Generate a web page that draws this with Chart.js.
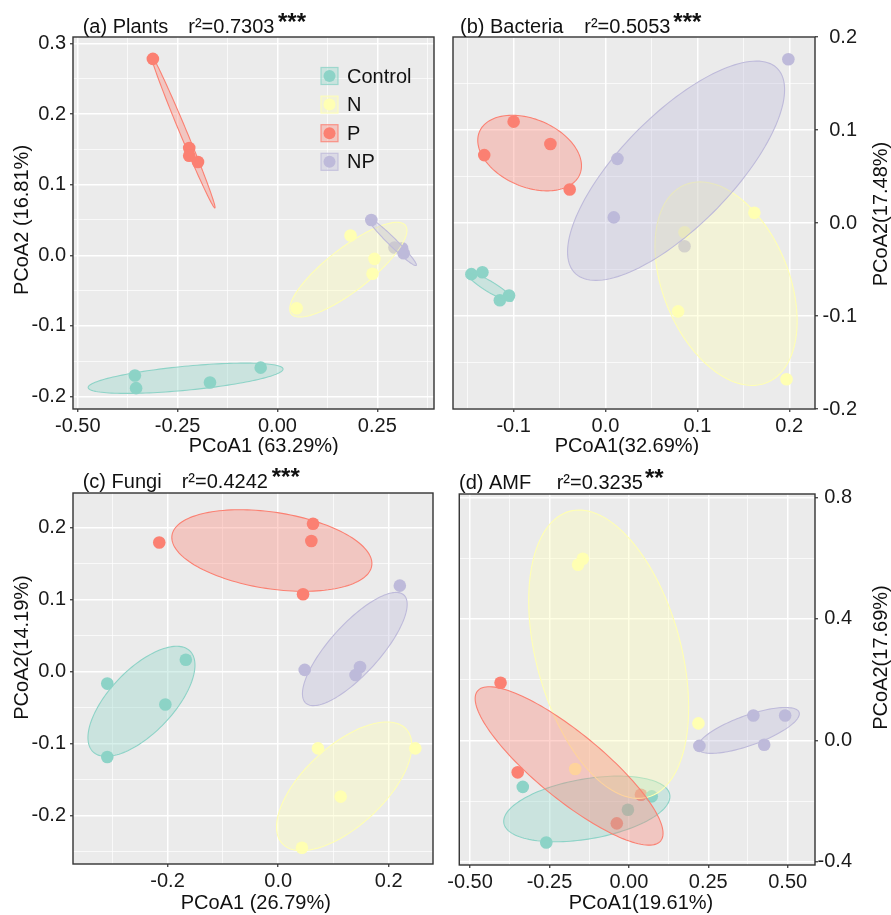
<!DOCTYPE html>
<html>
<head>
<meta charset="utf-8">
<script src="https://cdn.jsdelivr.net/npm/chart.js@4.4.1/dist/chart.umd.min.js"></script>
<style>
  html, body { margin: 0; padding: 0; background: #fff; }
  #wrap { position: relative; width: 891px; height: 915px; }
  canvas { position: absolute; }
</style>
</head>
<body>
<div id="wrap">
  <canvas id="pa" width="445" height="455" style="left:0;top:0"></canvas>
  <canvas id="pb" width="446" height="455" style="left:445px;top:0"></canvas>
  <canvas id="pc" width="445" height="460" style="left:0;top:455px"></canvas>
  <canvas id="pd" width="446" height="460" style="left:445px;top:455px"></canvas>
</div>
<script>
// groups and colours (Set3)
const groups = ['Control', 'N', 'P', 'NP'];
const groupColors = ['141,211,199', '255,255,179', '251,128,114', '190,186,218'];

// (a) Plants  - points [PCoA1, PCoA2]
const plantsControl = [[-0.357, -0.170], [-0.354, -0.188], [-0.169, -0.180], [-0.042, -0.159]];
const plantsN       = [[0.183, 0.028], [0.243, -0.005], [0.238, -0.026], [0.048, -0.075]];
const plantsP       = [[-0.312, 0.278], [-0.221, 0.152], [-0.221, 0.141], [-0.199, 0.132]];
const plantsNP      = [[0.235, 0.050], [0.293, 0.011], [0.312, 0.010], [0.316, 0.003]];
// ellipses: centre x, centre y, axis1 dx, dy, axis2 dx, dy (Control, N, P, NP)
const plantsEllipses = [
  [-0.230, -0.174, 0.244, 0.0132, 0.0029, -0.0169],
  [0.1775, -0.0203, 0.143, 0.0626, 0.033, -0.0241],
  [-0.236, 0.1745, 0.0793, -0.1074, 0.008, 0.0019],
  [0.287, 0.0194, 0.0605, -0.0336, 0.007, 0.0041]
];

// (b) Bacteria
const bactControl = [[-0.146, -0.055], [-0.134, -0.053], [-0.115, -0.083], [-0.105, -0.078]];
const bactN       = [[0.162, 0.011], [0.086, -0.010], [0.079, -0.095], [0.197, -0.168]];
const bactP       = [[-0.100, 0.109], [-0.060, 0.085], [-0.132, 0.073], [-0.039, 0.036]];
const bactNP      = [[0.199, 0.176], [0.013, 0.069], [0.009, 0.006], [0.086, -0.025]];
const bactEllipses = [
  [-0.1255, -0.0688, 0.0245, -0.0147, -0.0032, -0.0048],
  [0.1312, -0.0652, 0.0432, -0.1069, 0.0642, 0.0235],
  [-0.0826, 0.0752, 0.0541, -0.024, -0.0161, -0.0328],
  [0.0768, 0.0562, 0.1092, 0.1109, 0.045, -0.0401]
];

// (c) Fungi
const fungiControl = [[-0.167, 0.016], [-0.309, -0.017], [-0.204, -0.046], [-0.309, -0.119]];
const fungiN       = [[0.072, -0.107], [0.248, -0.107], [0.113, -0.174], [0.043, -0.245]];
const fungiP       = [[0.063, 0.205], [0.060, 0.181], [-0.215, 0.179], [0.045, 0.107]];
const fungiNP      = [[0.220, 0.119], [0.048, 0.002], [0.148, 0.006], [0.140, -0.005]];
const fungiEllipses = [
  [-0.2472, -0.0417, 0.0875, 0.0701, 0.0413, -0.0306],
  [0.1194, -0.1597, 0.1122, 0.0794, 0.0489, -0.041],
  [-0.0114, 0.1678, 0.1806, -0.0211, -0.0104, -0.0526],
  [0.1386, 0.031, 0.0886, 0.0751, 0.0334, -0.0233]
];

// (d) AMF
const amfControl = [[-0.334, -0.153], [0.072, -0.184], [-0.003, -0.228], [-0.260, -0.336]];
const amfN       = [[-0.145, 0.598], [-0.160, 0.578], [0.219, 0.056], [-0.169, -0.094]];
const amfP       = [[-0.404, 0.190], [-0.350, -0.105], [0.038, -0.179], [-0.038, -0.273]];
const amfNP      = [[0.392, 0.082], [0.492, 0.082], [0.222, -0.018], [0.426, -0.014]];
const amfEllipses = [
  [-0.1324, -0.2255, 0.2612, 0.0467, 0.0155, -0.0974],
  [-0.0636, 0.2837, 0.1244, -0.4701, 0.219, 0.0652],
  [-0.1882, -0.084, 0.2886, -0.2463, 0.0648, 0.0853],
  [0.3764, 0.0329, 0.1595, 0.0596, 0.0155, -0.0464]
];

// tick values + labels
const plantsXTicks = [-0.5, -0.25, 0, 0.25];  const plantsXLabels = ['-0.50', '-0.25', '0.00', '0.25'];
const plantsYTicks = [-0.2, -0.1, 0, 0.1, 0.2, 0.3]; const plantsYLabels = ['-0.2', '-0.1', '0.0', '0.1', '0.2', '0.3'];
const bactXTicks = [-0.1, 0, 0.1, 0.2];  const bactXLabels = ['-0.1', '0.0', '0.1', '0.2'];
const bactYTicks = [-0.2, -0.1, 0, 0.1, 0.2]; const bactYLabels = ['-0.2', '-0.1', '0.0', '0.1', '0.2'];
const fungiXTicks = [-0.2, 0, 0.2];  const fungiXLabels = ['-0.2', '0.0', '0.2'];
const fungiYTicks = [-0.2, -0.1, 0, 0.1, 0.2]; const fungiYLabels = ['-0.2', '-0.1', '0.0', '0.1', '0.2'];
const amfXTicks = [-0.5, -0.25, 0, 0.25, 0.5];  const amfXLabels = ['-0.50', '-0.25', '0.00', '0.25', '0.50'];
const amfYTicks = [-0.4, 0, 0.4, 0.8]; const amfYLabels = ['-0.4', '0.0', '0.4', '0.8'];

const FONT = "'Liberation Sans', Arial, sans-serif";
Chart.defaults.font.family = FONT;
Chart.defaults.font.size = 20;
Chart.defaults.color = '#1a1a1a';

// major ticks + half-step minor gridlines inside the range
const buildTicks = (vals, labels, min, max) => {
  const step = vals[1] - vals[0];
  const out = vals.map((v, i) => ({ value: v, txt: labels[i], minor: false }));
  for (let m = vals[0] - step / 2; m <= max + 1e-9; m += step) {
    if (m >= min - 1e-9) out.push({ value: m, txt: '', minor: true });
  }
  return out.filter(t => t.value >= min - 1e-9 && t.value <= max + 1e-9).sort((a, b) => a.value - b.value);
};

const axis = (min, max, vals, labels, pos, size, pad) => ({
  type: 'linear', position: pos, min, max,
  afterBuildTicks: s => { s.ticks = buildTicks(vals, labels, min, max); },
  afterFit: s => { if (pos === 'bottom') s.height = size; else s.width = size; },
  border: { display: false },
  grid: {
    color: '#ffffff',
    lineWidth: c => (c.tick && c.tick.minor) ? 0.7 : 1.5,
    tickColor: c => (c.tick && c.tick.minor) ? 'rgba(0,0,0,0)' : '#333',
    tickWidth: 1.2,
    tickLength: 3
  },
  ticks: {
    autoSkip: false, maxRotation: 0, minRotation: 0, padding: pad,
    crossAlign: pos === 'right' ? 'far' : 'near',
    color: '#1a1a1a',
    callback: (v, i, t) => t[i].txt
  }
});

const makePanel = (id, p) => {
  const sets = p.points.map((pts, i) => ({
    label: groups[i],
    data: pts.map(d => ({ x: d[0], y: d[1] })),
    pointRadius: 6.3,
    pointBorderWidth: 0,
    backgroundColor: `rgb(${groupColors[i]})`,
    borderColor: `rgb(${groupColors[i]})`
  }));

  const deco = {
    id: 'deco' + id,
    beforeDraw(chart) {
      const { ctx, chartArea: a } = chart;
      ctx.save();
      ctx.fillStyle = '#ebebeb';
      ctx.fillRect(a.left, a.top, a.width, a.height);
      ctx.restore();
    },
    afterDatasetsDraw(chart) {
      // ellipses go over the points, like the ggplot polygons
      const { ctx, chartArea: a, scales: { x, y } } = chart;
      ctx.save();
      ctx.beginPath(); ctx.rect(a.left, a.top, a.width, a.height); ctx.clip();
      p.ellipses.forEach((e, i) => {
        ctx.beginPath();
        for (let k = 0; k <= 144; k++) {
          const t = k / 144 * Math.PI * 2;
          const px = x.getPixelForValue(e[0] + e[2] * Math.cos(t) + e[4] * Math.sin(t));
          const py = y.getPixelForValue(e[1] + e[3] * Math.cos(t) + e[5] * Math.sin(t));
          k === 0 ? ctx.moveTo(px, py) : ctx.lineTo(px, py);
        }
        ctx.closePath();
        ctx.fillStyle = `rgba(${groupColors[i]},0.35)`;
        ctx.fill();
        ctx.strokeStyle = `rgb(${groupColors[i]})`;
        ctx.lineWidth = 1.1;
        ctx.stroke();
      });
      ctx.restore();
    },
    afterDraw(chart) {
      const { ctx, chartArea: a } = chart;
      ctx.save();
      ctx.strokeStyle = '#333';
      ctx.lineWidth = 1.4;
      ctx.strokeRect(a.left, a.top, a.width, a.height);

      ctx.fillStyle = '#111';
      ctx.textBaseline = 'alphabetic';
      ctx.textAlign = 'left';
      ctx.font = `20px ${FONT}`;
      ctx.fillText(p.title[0], p.titlePos[0], p.titlePos[3]);
      ctx.fillText(p.title[1], p.titlePos[1], p.titlePos[3]);
      ctx.font = `bold 24px ${FONT}`;
      ctx.fillText(p.title[2], p.titlePos[2], p.titlePos[3] - 3);

      ctx.font = `20px ${FONT}`;
      ctx.textAlign = 'center';
      ctx.textBaseline = 'middle';
      ctx.fillText(p.xTitle, p.xTitlePos[0], p.xTitlePos[1]);
      ctx.translate(p.yTitlePos[0], p.yTitlePos[1]);
      ctx.rotate(-Math.PI / 2);
      ctx.fillText(p.yTitle, 0, 0);
      ctx.restore();

      if (p.legend) {
        ctx.save();
        ctx.font = `20px ${FONT}`;
        ctx.textBaseline = 'middle';
        ctx.textAlign = 'left';
        groups.forEach((g, i) => {
          const cy = p.legend[1] + i * 28.6;
          const bx = p.legend[0];
          ctx.fillStyle = `rgba(${groupColors[i]},0.35)`;
          ctx.fillRect(bx, cy - 8.5, 17, 17);
          ctx.strokeStyle = `rgba(${groupColors[i]},0.8)`;
          ctx.lineWidth = 1.2;
          ctx.strokeRect(bx, cy - 8.5, 17, 17);
          ctx.beginPath();
          ctx.arc(bx + 8.5, cy, 6, 0, Math.PI * 2);
          ctx.fillStyle = `rgb(${groupColors[i]})`;
          ctx.fill();
          ctx.fillStyle = '#111';
          ctx.fillText(g, bx + 26, cy + 1);
        });
        ctx.restore();
      }
    }
  };

  return new Chart(document.getElementById(id), {
    type: 'scatter',
    data: { datasets: sets },
    options: {
      responsive: false,
      animation: false,
      events: [],
      layout: { padding: p.padding },
      plugins: { legend: { display: false }, tooltip: { enabled: false }, title: { display: false } },
      scales: {
        x: axis(p.xRange[0], p.xRange[1], p.xTicks, p.xLabels, 'bottom', p.xSize, 2),
        y: axis(p.yRange[0], p.yRange[1], p.yTicks, p.yLabels, p.yPos, p.ySize, 4)
      }
    },
    plugins: [deco]
  });
};

makePanel('pa', {
  points: [plantsControl, plantsN, plantsP, plantsNP], ellipses: plantsEllipses,
  xRange: [-0.512, 0.392], yRange: [-0.2175, 0.309],
  xTicks: plantsXTicks, xLabels: plantsXLabels, yTicks: plantsYTicks, yLabels: plantsYLabels,
  padding: { left: 0, right: 11, top: 37, bottom: 0 }, xSize: 46, ySize: 73, yPos: 'left',
  title: ['(a) Plants', 'r\u00b2=0.7303', '***'], titlePos: [82.7, 188.3, 278, 33],
  xTitle: 'PCoA1 (63.29%)', xTitlePos: [263.7, 446], yTitle: 'PCoA2 (16.81%)', yTitlePos: [22.7, 220],
  legend: [321, 76]
});

makePanel('pb', {
  points: [bactControl, bactN, bactP, bactNP], ellipses: bactEllipses,
  xRange: [-0.166, 0.228], yRange: [-0.2, 0.2],
  xTicks: bactXTicks, xLabels: bactXLabels, yTicks: bactYTicks, yLabels: bactYLabels,
  padding: { left: 8, right: 34, top: 37, bottom: 0 }, xSize: 46, ySize: 42, yPos: 'right',
  title: ['(b) Bacteria', 'r\u00b2=0.5053', '***'], titlePos: [15, 139.3, 228.3, 33],
  xTitle: 'PCoA1(32.69%)', xTitlePos: [182, 446], yTitle: 'PCoA2(17.48%)', yTitlePos: [436.7, 214]
});

makePanel('pc', {
  points: [fungiControl, fungiN, fungiP, fungiNP], ellipses: fungiEllipses,
  xRange: [-0.371, 0.280], yRange: [-0.2676, 0.2477],
  xTicks: fungiXTicks, xLabels: fungiXLabels, yTicks: fungiYTicks, yLabels: fungiYLabels,
  padding: { left: 0, right: 12, top: 38, bottom: 0 }, xSize: 51, ySize: 73, yPos: 'left',
  title: ['(c) Fungi', 'r\u00b2=0.4242', '***'], titlePos: [82.7, 181.7, 271.7, 33.3],
  xTitle: 'PCoA1 (26.79%)', xTitlePos: [255.8, 448], yTitle: 'PCoA2(14.19%)', yTitlePos: [22.7, 192.5]
});

makePanel('pd', {
  points: [amfControl, amfN, amfP, amfNP], ellipses: amfEllipses,
  xRange: [-0.534, 0.586], yRange: [-0.410, 0.811],
  xTicks: amfXTicks, xLabels: amfXLabels, yTicks: amfYTicks, yLabels: amfYLabels,
  padding: { left: 9, right: 39, top: 39, bottom: 0 }, xSize: 50, ySize: 37, yPos: 'right',
  title: ['(d) AMF', 'r\u00b2=0.3235', '**'], titlePos: [14, 111.7, 200, 34.3],
  xTitle: 'PCoA1(19.61%)', xTitlePos: [196, 448], yTitle: 'PCoA2(17.69%)', yTitlePos: [436.7, 202.5]
});
</script>
</body>
</html>
